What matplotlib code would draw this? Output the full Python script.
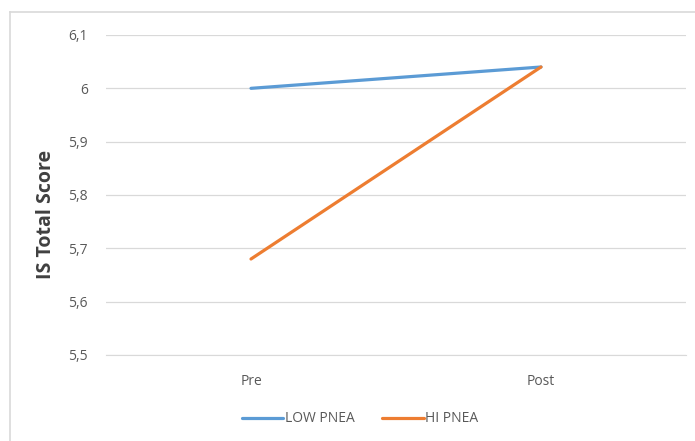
import matplotlib
matplotlib.use("Agg")
from matplotlib import pyplot as plt
from matplotlib.ticker import FuncFormatter, MultipleLocator
from matplotlib.lines import Line2D

phases = ["Pre", "Post"]
low_pnea = [6.00, 6.04]
hi_pnea = [5.68, 6.04]

fig = plt.figure(figsize=(6.95, 4.41), dpi=100)
ax = fig.add_axes([106 / 695, 1 - 355 / 441, 580 / 695, 320 / 441])

x = list(range(len(phases)))
ax.plot(x, low_pnea, color="#5B9BD5", lw=2.3, label="LOW PNEA", solid_capstyle="round")
ax.plot(x, hi_pnea, color="#ED7D31", lw=2.3, label="HI PNEA", solid_capstyle="round")

ax.set_xlim(-0.5, 1.5)
ax.set_ylim(5.5, 6.1)
ax.yaxis.set_major_locator(MultipleLocator(0.1))
ax.yaxis.set_major_formatter(FuncFormatter(lambda v, p: ("%g" % round(v, 2)).replace(".", ",")))
ax.set_xticks(x)
ax.set_xticklabels(phases)

ax.grid(axis="y", color="#D9D9D9", lw=0.9)
ax.set_axisbelow(True)
for s in ["top", "right", "left"]:
    ax.spines[s].set_visible(False)
ax.spines["bottom"].set_color("#D9D9D9")
ax.tick_params(axis="both", length=0, colors="#595959", labelsize=10)
ax.tick_params(axis="x", pad=14)
ax.tick_params(axis="y", pad=13)
for lab in ax.get_xticklabels() + ax.get_yticklabels():
    lab.set_fontfamily("Open Sans")

# axis title, placed like the original (a bit below the plot centre)
fig.text(46 / 695, 1 - 214 / 441, "IS Total Score", rotation=90, ha="center", va="center",
         fontsize=14, fontweight="bold", color="#404040", fontfamily="Open Sans")

leg = fig.legend(handles=ax.get_lines(), loc="center", bbox_to_anchor=(360 / 695, 1 - 419 / 441),
                 ncol=2, frameon=False, prop={"family": "Open Sans", "size": 10},
                 handlelength=3.0, handletextpad=0.1, columnspacing=2.0)
for t in leg.get_texts():
    t.set_color("#595959")

# chart border (top and left visible)
fig.add_artist(Line2D([10 / 695, 10 / 695], [0, 1 - 12 / 441], color="#D9D9D9", lw=1.2))
fig.add_artist(Line2D([10 / 695, 1], [1 - 12 / 441, 1 - 12 / 441], color="#D9D9D9", lw=1.2))

fig.savefig("out.png", dpi=100)
